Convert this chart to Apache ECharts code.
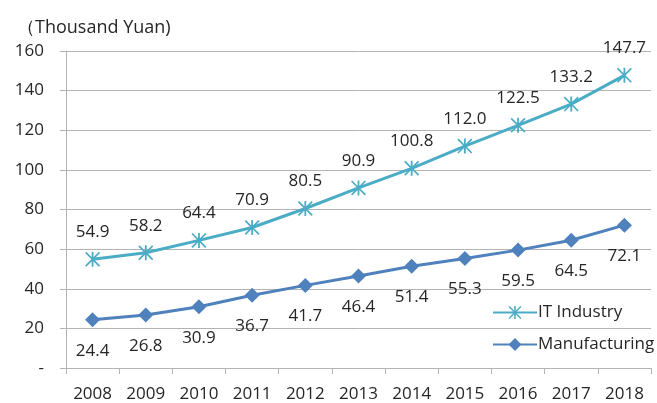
<!DOCTYPE html>
<html><head><meta charset="utf-8">
<script src="https://cdn.jsdelivr.net/npm/echarts@6/dist/echarts.min.js"></script>
<style>html,body{margin:0;padding:0;background:#fff}#c{width:657px;height:403px}</style>
</head><body><div id="c"></div>
<script>
const years = ['2008','2009','2010','2011','2012','2013','2014','2015','2016','2017','2018'];
const itIndustry = [54.9,58.2,64.4,70.9,80.5,90.9,100.8,112.0,122.5,133.2,147.7];
const manufacturing = [24.4,26.8,30.9,36.7,41.7,46.4,51.4,55.3,59.5,64.5,72.1];
const unitLabel = '（Thousand Yuan)';
const FONT = 'Open Sans';
const TXT = '#262626';
const GRID = '#b3b3b3';
const star = 'path://M4.4 0 L5.6 0 L5.6 10 L4.4 10 Z M0 0.8 L0.8 0 L10 9.2 L9.2 10 Z M9.2 0 L10 0.8 L0.8 10 L0 9.2 Z';
const chart = echarts.init(document.getElementById('c'));
chart.setOption({
  animation:false,
  textStyle:{fontFamily:FONT,color:TXT},
  title:{text:unitLabel,left:12,top:14,textStyle:{fontFamily:FONT,fontSize:18,fontWeight:'normal',color:TXT}},
  grid:{left:66,right:6,top:51,bottom:35},
  legend:{orient:'vertical',left:487,top:299,itemGap:15,itemWidth:44,itemHeight:16,
    textStyle:{fontFamily:FONT,fontSize:17,color:TXT,padding:[0,0,0,-4]},
    data:['IT Industry','Manufacturing']},
  xAxis:{type:'category',data:years,boundaryGap:true,
    axisLine:{lineStyle:{color:GRID}},
    axisTick:{show:true,length:6,lineStyle:{color:GRID}},
    axisLabel:{fontFamily:FONT,fontSize:17,color:TXT,margin:18}},
  yAxis:{type:'value',min:0,max:160,interval:20,
    axisLine:{show:true,lineStyle:{color:GRID}},
    axisTick:{show:true,length:6,lineStyle:{color:GRID}},
    splitLine:{lineStyle:{color:GRID}},
    axisLabel:{fontFamily:FONT,fontSize:17,color:TXT,margin:22,formatter:v=>v===0?'-':String(v)}},
  series:[
    {name:'IT Industry',type:'line',data:itIndustry,symbol:star,symbolSize:15,
     lineStyle:{width:3,color:'#4BACC6'},itemStyle:{color:'#4BACC6'},
     label:{show:true,position:'top',distance:11,fontFamily:FONT,fontSize:17,color:TXT,formatter:p=>p.value.toFixed(1)}},
    {name:'Manufacturing',type:'line',data:manufacturing,symbol:'diamond',symbolSize:15,
     lineStyle:{width:3,color:'#4F81BD'},itemStyle:{color:'#4F81BD'},
     label:{show:true,position:'bottom',distance:15,fontFamily:FONT,fontSize:17,color:TXT,formatter:p=>p.value.toFixed(1)}}
  ]
});
</script></body></html>
